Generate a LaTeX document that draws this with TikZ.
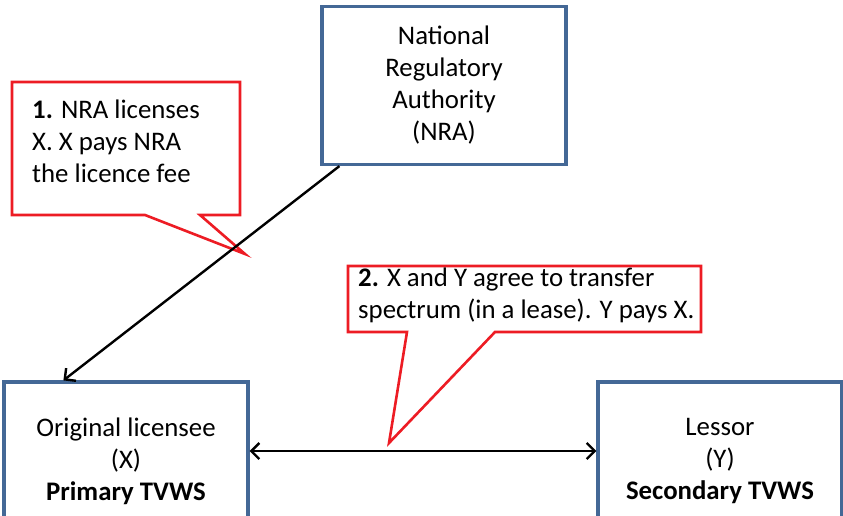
\documentclass[tikz,border=0pt]{standalone}
\usepackage{fontspec}
\setmainfont{Carlito}
\usetikzlibrary{arrows.meta}
\definecolor{boxblue}{RGB}{68,104,150}
\definecolor{calloutred}{RGB}{237,28,36}
\tikzset{
  party/.style={draw=boxblue,line width=3.2pt,minimum width=244pt,minimum height=158pt,align=center,inner sep=0pt,font=\fontsize{26.8}{32}\selectfont},
  callout/.style={draw=calloutred,line width=2.6pt,fill=white,line join=miter},
  note/.style={align=left,inner sep=0pt,font=\fontsize{26.8}{32}\selectfont},
  barb/.tip={Straight Barb[length=8pt,width=16pt]},
  link/.style={line width=2.4pt,-barb}
}
\begin{document}
\begin{tikzpicture}[x=1pt,y=-1pt]
\useasboundingbox (0,0) rectangle (843,516);
\node[party](nra)at(444,85.5){National\\Regulatory\\Authority\\(NRA)};
\node[party](xbox)at(126,461){Original licensee\\(X)\\\textbf{Primary TVWS}};
\node[party](ybox)at(720,461){Lessor\\(Y)\\\textbf{Secondary TVWS}};
\draw[callout](12,82)--(240,82)--(240,215)--(200,215)--(245,254)--(145,215)--(12,215)--cycle;
\node[note,anchor=north west](c1)at(32,100){\textbf{1.} NRA licenses\\X. X pays NRA\\the licence fee};
\draw[callout](348,266)--(701,266)--(701,332)--(495,332)--(389,443)--(407,332)--(348,332)--cycle;
\node[note,anchor=north west](c2)at(358,268){\textbf{2.} X and Y agree to transfer\\spectrum (in a lease). Y pays X.};
\draw[link]([xshift=19pt]nra.south west)--([xshift=61pt]xbox.north west);
\draw[link,barb-barb]([yshift=10pt]xbox.east)--([yshift=10pt]ybox.west);
\end{tikzpicture}
\end{document}
